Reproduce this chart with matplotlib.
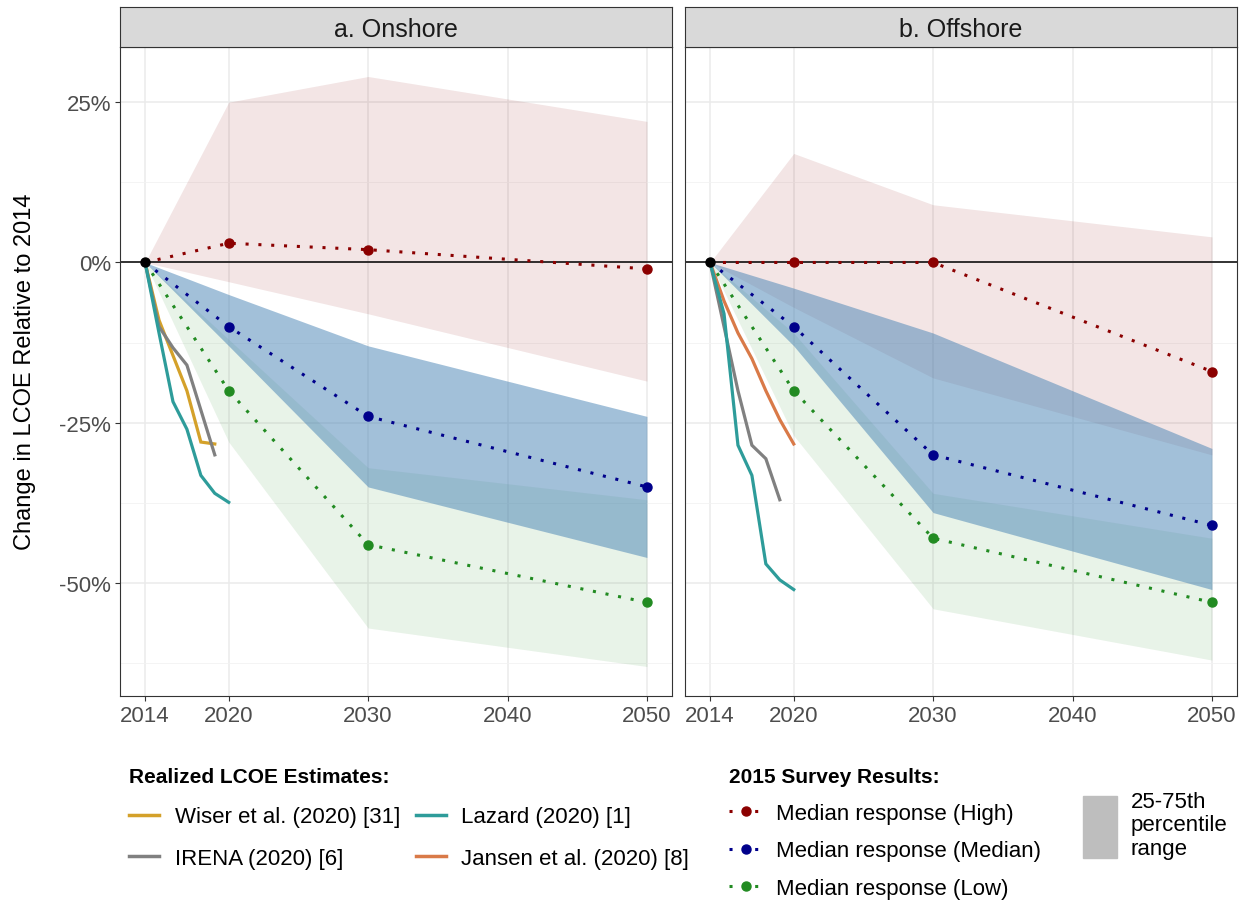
import matplotlib.pyplot as plt
import numpy as np
from matplotlib.lines import Line2D
from matplotlib.patches import Patch
from matplotlib.ticker import FuncFormatter, MultipleLocator

plt.rcParams['font.family'] = ['Liberation Sans', 'DejaVu Sans']

survey_years = [2014, 2020, 2030, 2050]

# onshore survey results (% change vs 2014): median, 25th and 75th percentile
on_high_med = [0, 3, 2, -1]
on_high_p25 = [0, -3, -8, -18.5]
on_high_p75 = [0, 25, 29, 22]
on_mid_med = [0, -10, -24, -35]
on_mid_p25 = [0, -13, -35, -46]
on_mid_p75 = [0, -5, -13, -24]
on_low_med = [0, -20, -44, -53]
on_low_p25 = [0, -28, -57, -63]
on_low_p75 = [0, -12, -32, -37]

# offshore survey results
off_high_med = [0, 0, 0, -17]
off_high_p25 = [0, -7, -18, -30]
off_high_p75 = [0, 17, 9, 4]
off_mid_med = [0, -10, -30, -41]
off_mid_p25 = [0, -13, -39, -51]
off_mid_p75 = [0, -4, -11, -29]
off_low_med = [0, -20, -43, -53]
off_low_p25 = [0, -27, -54, -62]
off_low_p75 = [0, -11, -36, -43]

# realized LCOE estimates
wiser_years = [2014, 2015, 2016, 2017, 2018, 2019]
wiser_on = [0, -9, -14.5, -20, -28, -28.3]
irena_on_years = [2014, 2015, 2016, 2017, 2018, 2019]
irena_on = [0, -10, -13.3, -16, -23, -30]
lazard_years = [2014, 2015, 2016, 2017, 2018, 2019, 2020]
lazard_on = [0, -11, -21.7, -26, -33.2, -36, -37.4]
irena_off_years = [2014, 2015, 2016, 2017, 2018, 2019]
irena_off = [0, -10, -20, -28.5, -30.6, -37]
lazard_off = [0, -8, -28.5, -33.2, -47, -49.5, -51]
jansen_years = [2014, 2015, 2016, 2017, 2018, 2019, 2020]
jansen_off = [0, -6, -11, -15, -20, -24.5, -28.3]

c_high, c_mid, c_low = '#8B0000', '#00008B', '#228B22'
c_wiser, c_irena, c_lazard, c_jansen = '#D4A12A', '#808080', '#2E9C9A', '#D97A48'

panels = [
    dict(title='a. Onshore',
         bands=[(on_high_p25, on_high_p75), (on_low_p25, on_low_p75), (on_mid_p25, on_mid_p75)],
         meds=[on_high_med, on_mid_med, on_low_med],
         realized=[(wiser_years, wiser_on, c_wiser), (irena_on_years, irena_on, c_irena),
                   (lazard_years, lazard_on, c_lazard)]),
    dict(title='b. Offshore',
         bands=[(off_high_p25, off_high_p75), (off_low_p25, off_low_p75), (off_mid_p25, off_mid_p75)],
         meds=[off_high_med, off_mid_med, off_low_med],
         realized=[(jansen_years, jansen_off, c_jansen), (irena_off_years, irena_off, c_irena),
                   (lazard_years, lazard_off, c_lazard)]),
]

# ribbons drawn high, low, then median on top
band_style = [(c_high, 0.10), (c_low, 0.10), ('#4682B4', 0.50)]
med_colors = [c_high, c_mid, c_low]

# shared y range with ggplot-style 5% expansion
all_vals = np.concatenate([np.ravel(p['bands']) for p in panels])
lo, hi = all_vals.min(), all_vals.max()
pad = 0.05 * (hi - lo)
ylim = (lo - pad, hi + pad)
xlim = (2014 - 0.05 * 36, 2050 + 0.05 * 36)

FS = 16

fig = plt.figure(figsize=(12.44, 9.04), dpi=100)
W, H = 1244, 904
lefts = [120, 685]
pw = 552
ax_bottom, ax_top = 697, 48

for i, (left, p) in enumerate(zip(lefts, panels)):
    ax = fig.add_axes([left / W, 1 - ax_bottom / H, pw / W, (ax_bottom - ax_top) / H])
    ax.set_xlim(*xlim)
    ax.set_ylim(*ylim)
    ax.set_xticks([2014, 2020, 2030, 2040, 2050])
    ax.set_yticks([25, 0, -25, -50])
    ax.yaxis.set_minor_locator(MultipleLocator(12.5))
    ax.yaxis.set_major_formatter(FuncFormatter(lambda v, pos: f'{v:.0f}%'))
    ax.grid(which='major', color='#EBEBEB', lw=1.1, zorder=0)
    ax.grid(which='minor', axis='y', color='#F2F2F2', lw=0.6, zorder=0)
    ax.set_axisbelow(True)
    ax.tick_params(which='major', length=3.5, width=0.8, color='#333333',
                   labelsize=FS, labelcolor='#4D4D4D', pad=3)
    ax.tick_params(which='minor', length=0)
    if i > 0:
        ax.tick_params(axis='y', which='both', left=False, labelleft=False)
    for s in ax.spines.values():
        s.set_color('#333333')
        s.set_linewidth(0.8)

    for (p25, p75), (col, a) in zip(p['bands'], band_style):
        ax.fill_between(survey_years, p25, p75, color=col, alpha=a, lw=0, zorder=1)

    ax.axhline(0, color='black', lw=1.1, zorder=2)

    for yrs, vals, col in p['realized']:
        ax.plot(yrs, vals, color=col, lw=2.3, solid_joinstyle='miter', zorder=3)

    for med, col in zip(p['meds'], med_colors):
        ax.plot(survey_years, med, color=col, lw=2.2, dashes=(1, 3.2),
                marker='o', ms=6.5, markevery=[1, 2, 3], zorder=4)

    ax.plot([survey_years[0]], [0], 'o', color='black', ms=6.5, zorder=5)

    sax = fig.add_axes([left / W, 1 - 48 / H, pw / W, 40 / H])
    sax.set_facecolor('#D9D9D9')
    sax.set_xticks([])
    sax.set_yticks([])
    for s in sax.spines.values():
        s.set_color('#333333')
        s.set_linewidth(0.8)
    sax.text(0.5, 0.45, p['title'], ha='center', va='center', fontsize=18,
             color='#1A1A1A', transform=sax.transAxes)

fig.text(25 / W, 1 - 372 / H, 'Change in LCOE Relative to 2014', rotation=90,
         ha='center', va='center', fontsize=17)

legend_kw = dict(loc='upper left', frameon=False, fontsize=FS, borderpad=0,
                 borderaxespad=0, title_fontproperties={'weight': 'bold', 'size': 15})

realized_handles = [
    Line2D([], [], color=c_wiser, lw=2.5, label='Wiser et al. (2020) [31]'),
    Line2D([], [], color=c_irena, lw=2.5, label='IRENA (2020) [6]'),
    Line2D([], [], color=c_lazard, lw=2.5, label='Lazard (2020) [1]'),
    Line2D([], [], color=c_jansen, lw=2.5, label='Jansen et al. (2020) [8]'),
]
leg1 = fig.legend(handles=realized_handles, ncol=2,
                  bbox_to_anchor=(129 / W, 1 - 768 / H),
                  title='Realized LCOE Estimates:',
                  handlelength=1.35, handletextpad=0.7, columnspacing=0.72,
                  labelspacing=0.92, **legend_kw)
leg1._legend_box.align = 'left'

survey_handles = [
    Line2D([], [], color=c, lw=2.2, dashes=(1, 3.2), marker='o', ms=6.5, label=lab)
    for c, lab in zip(med_colors, ['Median response (High)', 'Median response (Median)',
                                   'Median response (Low)'])
]
leg2 = fig.legend(handles=survey_handles, bbox_to_anchor=(729 / W, 1 - 768 / H),
                  title='2015 Survey Results:', handlelength=1.5, handletextpad=0.6,
                  labelspacing=0.75, numpoints=1, **legend_kw)
leg2._legend_box.align = 'left'

leg3 = fig.legend(handles=[Patch(color='#BEBEBE', label='25-75th\npercentile\nrange')],
                  bbox_to_anchor=(1083 / W, 1 - 792 / H),
                  handlelength=1.55, handleheight=3.9, handletextpad=0.6,
                  loc='upper left', frameon=False, fontsize=FS, borderpad=0,
                  borderaxespad=0)
leg3.get_texts()[0].set_linespacing(1.15)

fig.savefig('out.png', dpi=100)
